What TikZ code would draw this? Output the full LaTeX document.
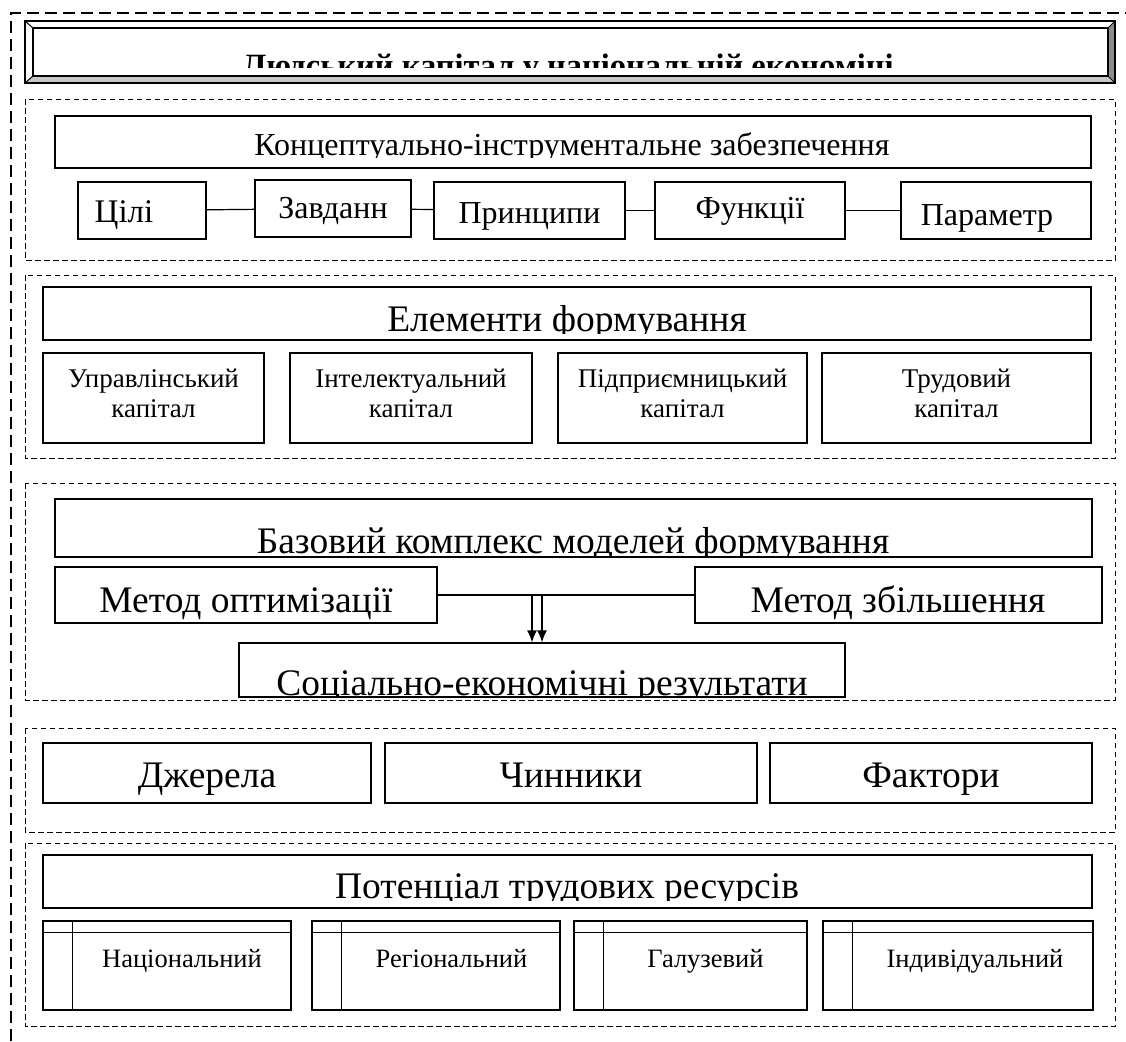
\documentclass[tikz,border=0pt]{standalone}
\usepackage{fontspec}
\setmainfont{Liberation Serif}
\usetikzlibrary{arrows.meta}

\newcommand{\fsz}[1]{\fontsize{#1}{#1}\selectfont}
\colorlet{bevellight}{black!22}
\colorlet{beveldark}{black!45}

\tikzset{
    box/.style={draw, line width=1.2pt, inner sep=0pt},
    txt/.style={anchor=base, inner sep=0pt},
    group/.style={draw, line width=1pt, dash pattern=on 5.5pt off 3.5pt},
    frame/.style={line width=1.4pt, dash pattern=on 12pt off 6pt},
    link/.style={line width=1.2pt},
    flow/.style={line width=1.4pt, -{Latex[length=12pt, width=10pt]}}
}

\begin{document}
\begin{tikzpicture}[x=1pt, y=-1pt]
    \useasboundingbox (0,0) rectangle (1126,1041);

    % outer frame
    \draw[frame] (11,1041) -- (11,13) -- (1126,13);

    % title
    \fill[bevellight] (25,83) -- (33,76) -- (1108,76) -- (1115,83) -- cycle;
    \fill[beveldark] (1115,21) -- (1108,28) -- (1108,76) -- (1115,83) -- cycle;
    \draw[line width=1.2pt] (25,21) rectangle (1115,83);
    \draw[line width=1pt] (25,21) -- (33,28) (1115,21) -- (1108,28)
        (25,83) -- (33,76) (1115,83) -- (1108,76);
    \node[box, minimum width=1075pt, minimum height=48pt] (title) at (570.5,52) {};
    \begin{scope}
        \clip (33,28) rectangle (1108,67);
        \node[txt, font=\bfseries\fsz{32.5}] (titletext) at (568,76) {Людський капітал у національній економіці};
    \end{scope}

    % groups
    \draw[group] (25,99) rectangle (1115,260);
    \draw[group] (25,275) rectangle (1115,458);
    \draw[group] (25,483) rectangle (1115,700);
    \draw[group] (25,728) rectangle (1115,832);
    \draw[group] (25,843) rectangle (1115,1026);

    % conceptual block
    \node[box, minimum width=1036pt, minimum height=52pt] (concept) at (573,142) {};
    \begin{scope}
        \clip (55,116) rectangle (1091,157);
        \node[txt, font=\fsz{32}] (concepttext) at (572,155) {Концептуально-інструментальне забезпечення};
    \end{scope}

    \node[box, minimum width=128pt, minimum height=57pt] (goals) at (142,210.5) {};
    \node[box, minimum width=156pt, minimum height=57pt] (tasks) at (333,208.5) {};
    \node[box, minimum width=191pt, minimum height=57pt] (princ) at (529.5,210.5) {};
    \node[box, minimum width=190pt, minimum height=57pt] (funcs) at (750,210.5) {};
    \node[box, minimum width=190pt, minimum height=57pt] (params) at (996,210.5) {};
    \node[txt, font=\fsz{33}] (goalstext) at (124,222) {Цілі};
    \node[txt, font=\fsz{32}] (taskstext) at (333,218) {Завданн};
    \node[txt, font=\fsz{32}] (princtext) at (529.5,223) {Принципи};
    \node[txt, font=\fsz{32}] (funcstext) at (750,218) {Функції};
    \node[txt, font=\fsz{32}] (paramstext) at (987,225) {Параметр};

    \draw[link] (goals) -- (tasks);
    \draw[link] (tasks) -- (princ);
    \draw[link] (princ) -- (funcs);
    \draw[link] (funcs) -- (params);

    % elements
    \node[box, minimum width=1048pt, minimum height=53pt] (elements) at (567,313.5) {};
    \begin{scope}
        \clip (43,287) rectangle (1091,333);
        \node[txt, font=\fsz{37.5}] (elementstext) at (567,331) {Елементи формування};
    \end{scope}

    \node[box, minimum width=221pt, minimum height=90pt] (mgmt) at (153.5,398) {};
    \node[box, minimum width=242pt, minimum height=90pt] (intel) at (411,398) {};
    \node[box, minimum width=249pt, minimum height=90pt] (entre) at (682.5,398) {};
    \node[box, minimum width=269pt, minimum height=90pt] (labour) at (956.5,398) {};
    \node[txt, font=\fsz{27}, align=center] (mgmttext) at (153.5,417) {Управлінський\\[3pt]капітал};
    \node[txt, font=\fsz{27}, align=center] (inteltext) at (411,417) {Інтелектуальний\\[3pt]капітал};
    \node[txt, font=\fsz{27}, align=center] (entretext) at (682.5,417) {Підприємницький\\[3pt]капітал};
    \node[txt, font=\fsz{27}, align=center] (labourtext) at (956.5,417) {Трудовий\\[3pt]капітал};

    % models
    \node[box, minimum width=1037pt, minimum height=58pt] (models) at (573.5,528) {};
    \begin{scope}
        \clip (55,499) rectangle (1092,555);
        \node[txt, font=\fsz{37.5}] (modelstext) at (573,553) {Базовий комплекс моделей формування};
    \end{scope}

    \node[box, minimum width=382pt, minimum height=56pt] (optim) at (246,595) {};
    \node[box, minimum width=407pt, minimum height=56pt] (incr) at (898.5,595) {};
    \node[txt, font=\fsz{37.5}] (optimtext) at (246,612) {Метод оптимізації};
    \node[txt, font=\fsz{37.5}] (incrtext) at (898,612) {Метод збільшення};

    \node[box, minimum width=606pt, minimum height=54pt] (result) at (542,670) {};
    \begin{scope}
        \clip (239,643) rectangle (845,697);
        \node[txt, font=\fsz{37.5}] (resulttext) at (542,695) {Соціально-економічні результати};
    \end{scope}

    \draw[link] (optim) -- (incr);
    \coordinate (split) at (537,595);
    \draw[flow] ([xshift=-5pt]split) -- ([xshift=-5pt]split |- result.north);
    \draw[flow] ([xshift=5pt]split) -- ([xshift=5pt]split |- result.north);

    % sources
    \node[box, minimum width=328pt, minimum height=60pt] (sources) at (207,773) {};
    \node[box, minimum width=372pt, minimum height=60pt] (drivers) at (571,773) {};
    \node[box, minimum width=322pt, minimum height=60pt] (factors) at (931,773) {};
    \node[txt, font=\fsz{37.5}] (sourcestext) at (207,787) {Джерела};
    \node[txt, font=\fsz{37.5}] (driverstext) at (571,787) {Чинники};
    \node[txt, font=\fsz{37.5}] (factorstext) at (931,787) {Фактори};

    % potential
    \node[box, minimum width=1049pt, minimum height=53pt] (potential) at (567.5,881.5) {};
    \begin{scope}
        \clip (43,855) rectangle (1092,900);
        \node[txt, font=\fsz{37.5}] (potentialtext) at (567,898) {Потенціал трудових ресурсів};
    \end{scope}

    \node[box, minimum width=248pt, minimum height=89pt] (nat) at (167,965.5) {};
    \node[box, minimum width=248pt, minimum height=89pt] (reg) at (436,965.5) {};
    \node[box, minimum width=233pt, minimum height=89pt] (branch) at (690.5,965.5) {};
    \node[box, minimum width=270pt, minimum height=89pt] (indiv) at (958,965.5) {};
    \foreach \n in {nat,reg,branch,indiv} {
        \draw[line width=1pt] ([yshift=-12pt]\n.north west) -- ([yshift=-12pt]\n.north east);
        \draw[line width=1.2pt] ([xshift=30pt]\n.north west) -- ([xshift=30pt]\n.south west);
    }
    \node[txt, font=\fsz{26.5}] (nattext) at (182,967) {Національний};
    \node[txt, font=\fsz{26.5}] (regtext) at (451.5,967) {Регіональний};
    \node[txt, font=\fsz{26.5}] (branchtext) at (705.5,967) {Галузевий};
    \node[txt, font=\fsz{26.5}] (indivtext) at (975,967) {Індивідуальний};
\end{tikzpicture}
\end{document}
